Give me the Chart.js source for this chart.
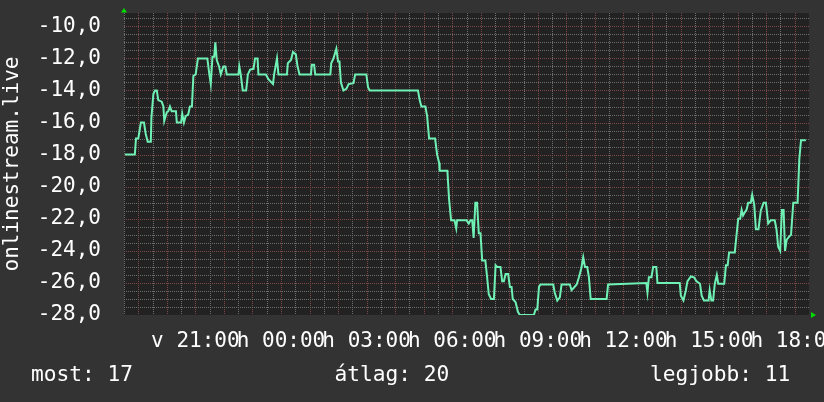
<!DOCTYPE html>
<html>
<head>
<meta charset="utf-8">
<script src="https://cdn.jsdelivr.net/npm/chart.js@4.4.1/dist/chart.umd.min.js"></script>
<style>
  html, body { margin: 0; padding: 0; background: #333333; }
  #keret { position: relative; width: 824px; height: 402px; }
  .stat { position: absolute; top: 362px; font: 21.2px 'DejaVu Sans Mono', monospace; line-height: 24px; color: #ffffff; white-space: pre; }
</style>
</head>
<body>
<div id="keret">
  <canvas id="grafikon" width="824" height="402"></canvas>
  <div class="stat" id="stat0" style="left:31px"></div>
  <div class="stat" id="stat1" style="left:334.5px"></div>
  <div class="stat" id="stat2" style="left:650px"></div>
</div>
<script>
// idő órában (vasárnap 00:00-tól), érték
const idopontok = [
  18.53, 18.88, 18.92, 19.00, 19.09, 19.20, 19.26, 19.33, 19.44, 19.46, 19.53, 19.59, 19.65, 19.70, 19.82, 19.88,
  19.91, 20.00, 20.05, 20.11, 20.17, 20.32, 20.35, 20.50, 20.54, 20.60, 20.66, 20.75, 20.81, 20.88, 20.93, 21.01,
  21.09, 21.42, 21.49, 21.54, 21.60, 21.66, 21.70, 21.75, 21.83, 21.89, 21.98, 22.05, 22.10, 22.51, 22.54, 22.59,
  22.66, 22.78, 22.84, 22.92, 23.04, 23.09, 23.18, 23.21, 23.47, 23.56, 23.72, 23.76, 23.86, 23.91, 24.21, 24.24,
  24.35, 24.42, 24.52, 24.58, 24.65, 25.05, 25.08, 25.16, 25.20, 25.73, 25.76, 25.84, 25.94, 26.00, 26.05, 26.10,
  26.19, 26.29, 26.37, 26.54, 26.60, 26.99, 27.05, 27.11, 28.80, 28.86, 28.92, 29.06, 29.12, 29.19, 29.40, 29.47,
  29.54, 29.56, 29.83, 29.89, 29.96, 30.08, 30.14, 30.17, 30.50, 30.58, 30.64, 30.70, 30.75, 30.81, 30.87, 30.93,
  30.99, 31.05, 31.16, 31.22, 31.28, 31.36, 31.46, 31.52, 31.58, 31.69, 31.75, 31.81, 31.87, 31.96, 32.02, 32.08,
  32.12, 32.22, 32.30, 32.37, 32.86, 32.92, 32.98, 33.04, 33.09, 33.54, 33.59, 33.68, 33.77, 33.83, 34.12, 34.18,
  34.26, 34.36, 34.44, 34.52, 34.59, 34.65, 34.73, 34.79, 34.85, 35.41, 35.46, 36.80, 36.84, 36.89, 36.98, 37.04,
  37.15, 37.19, 37.97, 38.01, 38.10, 38.18, 38.24, 38.36, 38.47, 38.56, 38.68, 38.74, 38.82, 38.98, 39.02, 39.08,
  39.14, 39.20, 39.27, 39.32, 39.53, 39.59, 39.65, 39.70, 39.90, 39.95, 40.02, 40.09, 40.14, 40.19, 40.25, 40.31,
  40.37, 40.46, 40.51, 40.58, 40.64, 40.73, 40.81, 40.91, 40.99, 41.07, 41.16, 41.30, 41.36, 41.42, 41.49, 41.55,
  41.61, 41.66, 41.72, 41.81, 41.87, 41.95, 42.10, 42.16, 42.22, 42.39
];
const ertekek = [
  -18, -18, -17, -17, -16, -16, -16.7, -17.2, -17.2, -15.7, -14.2, -14, -14, -14.6, -14.7, -15,
  -15.9, -15.35, -15.3, -15, -15.3, -15.3, -16, -16, -15.45, -16, -15.6, -15.5, -15, -15, -13.1, -13,
  -12, -12, -13, -13.6, -11.9, -11.9, -11, -12.1, -12.5, -13, -12.5, -12.5, -13, -13, -12.5, -13,
  -14, -14, -13, -12.7, -12.65, -12, -12, -13, -13, -13.3, -13.6, -13, -12, -13, -13, -12.3,
  -12.1, -11.6, -11.75, -12.5, -13, -13, -12.4, -12.4, -13, -13, -12.3, -12, -11.4, -12.2, -12.2, -13.5,
  -14, -13.9, -13.6, -13.55, -13, -13, -13.8, -14, -14, -14.6, -15, -15, -15.6, -17, -17, -18,
  -18.5, -19, -19, -20.8, -22.1, -22.1, -22.6, -22.1, -22.1, -22.3, -22.1, -22.1, -23.2, -21, -21, -22.9,
  -22.9, -24.6, -24.6, -25.6, -26.7, -27, -27, -24.9, -25, -25, -25.9, -25.9, -25.45, -25.45, -26.25, -26.25,
  -27, -27.2, -27.8, -28, -28, -27.65, -27.65, -26.25, -26.1, -26.1, -26.6, -27.1, -26.9, -26.1, -26.1, -26.45,
  -26.3, -26.1, -25.65, -25.1, -24.4, -25, -25, -25.65, -27, -27, -26.1, -26, -26.6, -25.65, -25.65, -25,
  -25, -26, -26, -26.8, -27.1, -26.5, -25.9, -25.6, -25.65, -25.9, -26.05, -26.8, -27.1, -27.1, -26.45, -27.1,
  -27.1, -26.05, -25.5, -26.05, -26.05, -24.9, -24.9, -24.1, -24.1, -23.2, -22, -22, -21.45, -21.8, -21.6, -21.45,
  -21, -21, -20.5, -21.1, -22.65, -22.65, -21.5, -21, -21, -22.3, -22.1, -22.1, -22.65, -23.75, -24, -21.45,
  -21.45, -24, -23.3, -23.1, -23, -21, -21, -18.3, -17.1, -17.1
];

// tengelyfeliratok
const oraFeliratok = [21, 24, 27, 30, 33, 36, 39, 42];
const idoFeliratok = ['v 21:00', 'h 00:00', 'h 03:00', 'h 06:00', 'h 09:00', 'h 12:00', 'h 15:00', 'h 18:00'];
const statFeliratok = ['most: 17', 'átlag: 20', 'legjobb: 11'];
const tengelyCim = 'onlinestream.live';

statFeliratok.forEach((t, i) => { document.getElementById('stat' + i).textContent = t; });

const betu = { family: "'DejaVu Sans Mono', monospace", size: 21 };
const halo = '#6e6e6e';
const foHalo = '#7c4848';
const egesz = (v, n) => Math.abs(v / n - Math.round(v / n)) < 1e-6;

// háttér, pontozott rács (1 px pontok), zöld nyilak
const hatter = {
  id: 'hatter',
  beforeDatasetsDraw(chart) {
    const { ctx, chartArea: a, scales } = chart;
    const bal = Math.round(a.left), jobb = Math.round(a.right);
    const fent = Math.round(a.top), lent = Math.round(a.bottom);
    ctx.save();
    ctx.fillStyle = '#222222';
    ctx.fillRect(bal, fent, jobb - bal, lent - fent);
    scales.x.ticks.forEach((t) => {
      const px = Math.round(scales.x.getPixelForValue(t.value));
      if (px >= jobb) return;
      ctx.fillStyle = egesz(t.value, 1) ? foHalo : halo;
      for (let y = fent; y < lent; y += 2) ctx.fillRect(px, y, 1, 1);
    });
    scales.y.ticks.forEach((t) => {
      const py = Math.round(scales.y.getPixelForValue(t.value));
      if (py >= lent) return;
      ctx.fillStyle = egesz(t.value, 2) ? foHalo : halo;
      for (let x = bal; x < jobb; x += 2) ctx.fillRect(x, py, 1, 1);
    });
    ctx.restore();
  },
  afterDraw(chart) {
    const { ctx, chartArea: a } = chart;
    ctx.save();
    ctx.fillStyle = '#00dd00';
    ctx.beginPath();
    ctx.moveTo(a.left - 3, a.top - 0.5);
    ctx.lineTo(a.left + 3, a.top - 0.5);
    ctx.lineTo(a.left, a.top - 5);
    ctx.closePath();
    ctx.fill();
    ctx.beginPath();
    ctx.moveTo(a.right + 2, a.bottom - 3);
    ctx.lineTo(a.right + 2, a.bottom + 3);
    ctx.lineTo(a.right + 7, a.bottom);
    ctx.closePath();
    ctx.fill();
    ctx.restore();
  }
};

const ctx = document.getElementById('grafikon').getContext('2d');
new Chart(ctx, {
  type: 'line',
  data: {
    datasets: [{
      label: tengelyCim,
      data: idopontok.map((t, i) => ({ x: t, y: ertekek[i] })),
      borderColor: '#6ff0b4',
      borderWidth: 2,
      pointRadius: 0,
      tension: 0,
      fill: false
    }]
  },
  options: {
    responsive: false,
    animation: false,
    layout: { padding: { left: 0, top: 13, right: 15, bottom: 47 } },
    plugins: { legend: { display: false }, tooltip: { enabled: false } },
    scales: {
      x: {
        type: 'linear',
        min: 18.5,
        max: 42.5,
        afterFit: (s) => { s.height = 40; s.paddingLeft = 0; s.paddingRight = 0; },
        border: { display: false },
        grid: { display: false },
        ticks: {
          stepSize: 0.5,
          autoSkip: false,
          maxRotation: 0,
          minRotation: 0,
          includeBounds: false,
          padding: 6,
          color: '#ffffff',
          font: betu,
          callback: (v) => {
            const i = oraFeliratok.findIndex((h) => Math.abs(h - v) < 1e-6);
            return i >= 0 ? idoFeliratok[i] : '';
          }
        }
      },
      y: {
        min: -28,
        max: -9.17,
        afterFit: (s) => { s.width = 124; s.paddingTop = 0; s.paddingBottom = 0; },
        border: { display: false },
        grid: { display: false },
        ticks: {
          stepSize: 0.5,
          includeBounds: false,
          autoSkip: false,
          padding: 15,
          color: '#ffffff',
          font: betu,
          callback: (v) => egesz(v, 2) ? v.toFixed(1).replace('.', ',') : ''
        },
        title: {
          display: true,
          text: tengelyCim,
          color: '#ffffff',
          font: betu,
          padding: 0
        }
      }
    }
  },
  plugins: [hatter]
});
</script>
</body>
</html>
